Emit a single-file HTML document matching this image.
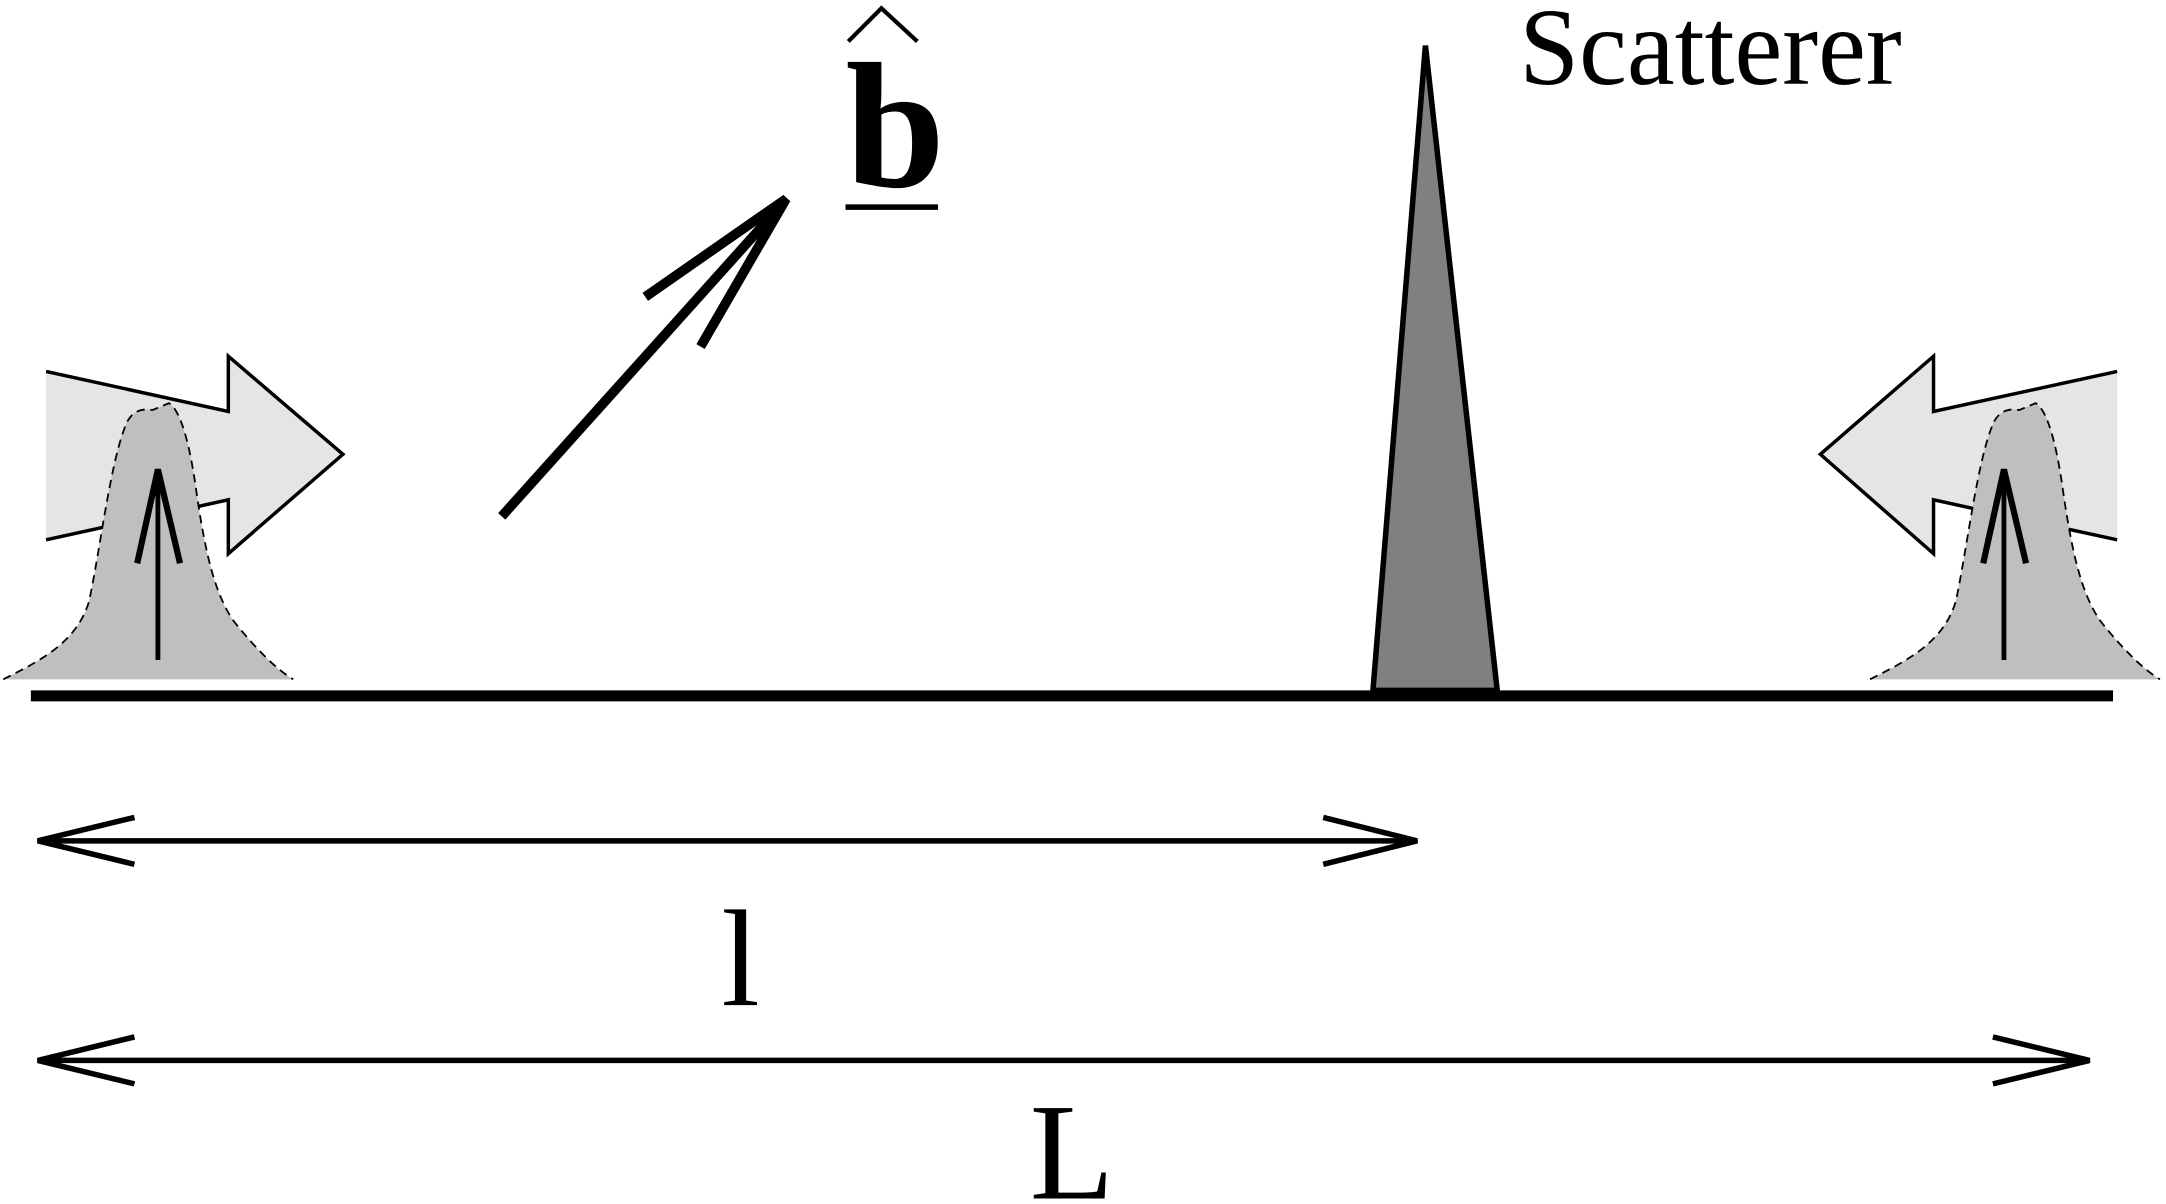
<!DOCTYPE html>
<html><head><meta charset="utf-8"><style>
html,body{margin:0;padding:0;background:#fff;}
svg{display:block;}
text{font-family:"Liberation Serif",serif;}
</style></head><body>
<svg width="2166" height="1204" viewBox="0 0 1568 872" xmlns="http://www.w3.org/2000/svg">
<g>
<polygon points="33,269 165,298 165,258 248,329 165,401 165,362 33,391" fill="#e5e5e5" stroke="none"/>
<polyline points="33,269 165,298 165,258 248,329 165,401 165,362 33,391" fill="none" stroke="#000" stroke-width="2.5"/>
</g>
<g>
<polygon points="1533,269 1400,298 1400,258 1318,329 1400,401 1400,362 1533,391" fill="#e5e5e5" stroke="none"/>
<polyline points="1533,269 1400,298 1400,258 1318,329 1400,401 1400,362 1533,391" fill="none" stroke="#000" stroke-width="2.5"/>
</g>
<path d="M2,492 C30,478 55,465 64,436 C72,400 80,330 92,305 C97,296 105,296 110,297 L122,292 C132,298 138,330 141,350 C148,400 155,430 169,450 C185,470 200,485 212,492" fill="#bfbfbf" stroke="#000" stroke-width="1.3" stroke-dasharray="6,4"/>
<path transform="translate(1352,0)" d="M2,492 C30,478 55,465 64,436 C72,400 80,330 92,305 C97,296 105,296 110,297 L122,292 C132,298 138,330 141,350 C148,400 155,430 169,450 C185,470 200,485 212,492" fill="#bfbfbf" stroke="#000" stroke-width="1.3" stroke-dasharray="6,4"/>
<g stroke="#000" fill="none">
<line x1="114" y1="478" x2="114" y2="340" stroke-width="3.5"/>
<polyline points="99,408 114,340 130,408" stroke-width="4.5"/>
</g>
<g stroke="#000" fill="none">
<line x1="1451" y1="478" x2="1451" y2="340" stroke-width="3.5"/>
<polyline points="1436,408 1451,340 1467,408" stroke-width="4.5"/>
</g>
<line x1="22" y1="504" x2="1530" y2="504" stroke="#000" stroke-width="8"/>
<polygon points="994,500 1032,33 1084,500" fill="#808080" stroke="#000" stroke-width="4"/>
<text x="1100" y="61" font-size="80" textLength="277" lengthAdjust="spacingAndGlyphs">Scatterer</text>
<g stroke="#000" fill="none" stroke-width="7">
<line x1="363" y1="374" x2="565" y2="149"/>
<polyline points="467,215 569,144 507,251"/>
</g>
<g>
<text x="612" y="135" font-size="130" font-weight="bold" textLength="72" lengthAdjust="spacingAndGlyphs">b</text>
<polyline points="614,30 638,6 664,30" fill="none" stroke="#000" stroke-width="3"/>
<line x1="612" y1="150" x2="679" y2="150" stroke="#000" stroke-width="4"/>
</g>
<g stroke="#000" fill="none" stroke-width="4">
<line x1="27" y1="609" x2="1026" y2="609"/>
<polyline points="97,592 27,609 97,626"/>
<polyline points="958,592 1026,609 958,626"/>
</g>
<text x="536" y="728" font-size="100" text-anchor="middle">l</text>
<g stroke="#000" fill="none" stroke-width="4">
<line x1="27" y1="768" x2="1513" y2="768"/>
<polyline points="97,751 27,768 97,785"/>
<polyline points="1443,751 1513,768 1443,785"/>
</g>
<text x="776" y="868" font-size="100" text-anchor="middle">L</text>
</svg>
</body></html>
